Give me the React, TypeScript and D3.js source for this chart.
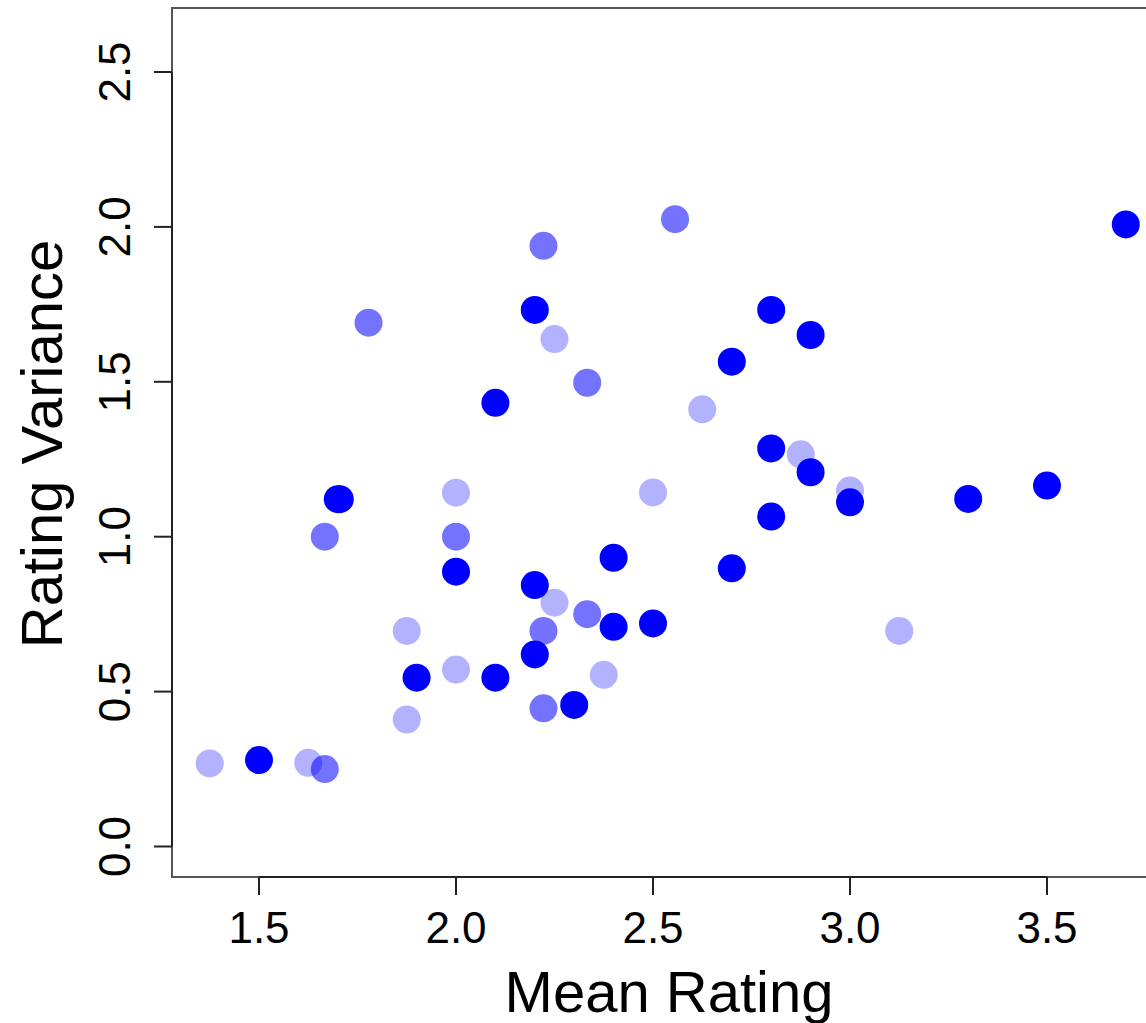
import React, { useEffect, useRef } from "react";
import * as d3 from "d3";

// Data: mean rating (x) and rating variance (y), three groups with different opacity
const fullX = [1.5, 1.7, 1.705, 1.9, 2.0, 2.1, 2.1, 2.2, 2.2, 2.2, 2.3, 2.4, 2.4, 2.5, 2.7, 2.7, 2.8, 2.8, 2.8, 2.9, 2.9, 3.0, 3.3, 3.5, 3.7];
const fullY = [0.279, 1.121, 1.121, 0.545, 0.887, 1.432, 0.545, 1.732, 0.844, 0.62, 0.457, 0.932, 0.709, 0.72, 1.565, 0.898, 1.732, 1.285, 1.065, 1.651, 1.208, 1.111, 1.122, 1.165, 2.008];

const medX = [1.667, 1.667, 1.778, 2.0, 2.222, 2.222, 2.222, 2.333, 2.333, 2.556];
const medY = [1.0, 0.25, 1.691, 1.0, 1.939, 0.696, 0.446, 1.497, 0.75, 2.025];

const lightX = [1.375, 1.625, 1.875, 1.875, 2.0, 2.0, 2.25, 2.25, 2.375, 2.5, 2.625, 2.875, 3.0, 3.125];
const lightY = [0.268, 0.27, 0.696, 0.41, 1.142, 0.571, 1.638, 0.787, 0.554, 1.143, 1.411, 1.266, 1.149, 0.696];

const xTicks = [1.5, 2.0, 2.5, 3.0, 3.5];
const yTicks = [0.0, 0.5, 1.0, 1.5, 2.0, 2.5];

const groups = [
  { xs: lightX, ys: lightY, opacity: 0.3 },
  { xs: medX, ys: medY, opacity: 0.55 },
  { xs: fullX, ys: fullY, opacity: 1 },
];

export default function App() {
  const ref = useRef<SVGSVGElement>(null);

  useEffect(() => {
    const svg = d3.select(ref.current);
    svg.selectAll("*").remove();

    const x = d3.scaleLinear().domain([2.0, 3.0]).range([456, 850]);
    const y = d3.scaleLinear().domain([0, 2.5]).range([846.5, 72]);

    const left = 172, top = 8, bottom = 877, right = 1165;
    const font = "'Liberation Sans', Arial, Helvetica, sans-serif";

    // box
    svg.append("rect")
      .attr("x", left).attr("y", top)
      .attr("width", right - left).attr("height", bottom - top)
      .attr("fill", "none").attr("stroke", "#555").attr("stroke-width", 2);

    // points
    groups.forEach((g) => {
      svg.append("g").selectAll("circle")
        .data(g.xs.map((v, i) => [v, g.ys[i]]))
        .join("circle")
        .attr("cx", (d) => x(d[0]))
        .attr("cy", (d) => y(d[1]))
        .attr("r", 14)
        .attr("fill", "#0000ff")
        .attr("fill-opacity", g.opacity);
    });

    // x axis
    const xa = svg.append("g");
    xa.append("line")
      .attr("x1", x(xTicks[0])).attr("x2", x(xTicks[xTicks.length - 1]))
      .attr("y1", bottom).attr("y2", bottom)
      .attr("stroke", "#222").attr("stroke-width", 2);
    xTicks.forEach((t) => {
      xa.append("line")
        .attr("x1", x(t)).attr("x2", x(t))
        .attr("y1", bottom).attr("y2", bottom + 18)
        .attr("stroke", "#222").attr("stroke-width", 2);
      xa.append("text")
        .attr("x", x(t)).attr("y", 943)
        .attr("text-anchor", "middle")
        .attr("font-family", font).attr("font-size", 44)
        .attr("fill", "#000")
        .text(d3.format(".1f")(t));
    });

    // y axis
    const ya = svg.append("g");
    ya.append("line")
      .attr("x1", left).attr("x2", left)
      .attr("y1", y(yTicks[0])).attr("y2", y(yTicks[yTicks.length - 1]))
      .attr("stroke", "#222").attr("stroke-width", 2);
    yTicks.forEach((t) => {
      ya.append("line")
        .attr("x1", left - 18).attr("x2", left)
        .attr("y1", y(t)).attr("y2", y(t))
        .attr("stroke", "#222").attr("stroke-width", 2);
      ya.append("text")
        .attr("transform", `translate(130,${y(t)}) rotate(-90)`)
        .attr("text-anchor", "middle")
        .attr("font-family", font).attr("font-size", 44)
        .attr("fill", "#000")
        .text(d3.format(".1f")(t));
    });

    // titles
    svg.append("text")
      .attr("x", 669).attr("y", 1012)
      .attr("text-anchor", "middle")
      .attr("font-family", font).attr("font-size", 58)
      .attr("fill", "#000")
      .text("Mean Rating");

    svg.append("text")
      .attr("transform", `translate(62,444) rotate(-90)`)
      .attr("text-anchor", "middle")
      .attr("font-family", font).attr("font-size", 58)
      .attr("fill", "#000")
      .text("Rating Variance");
  }, []);

  return (
    <svg
      ref={ref}
      width={1146}
      height={1023}
      style={{ position: "absolute", left: 0, top: 0, background: "#fff" }}
    />
  );
}
